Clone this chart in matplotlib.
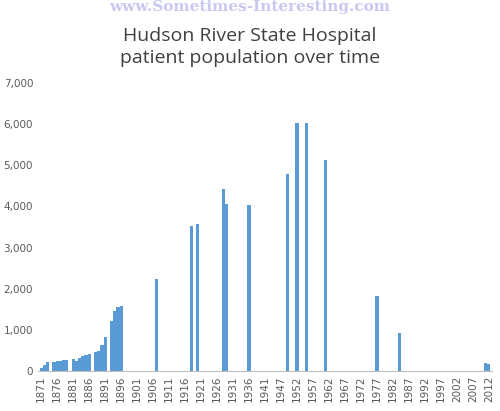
import matplotlib.pyplot as plt
import numpy as np

# categories: every year 1871-2012 except 1942 (as in the original sheet)
years = [y for y in range(1871, 2013) if y != 1942]

data_years = [1871, 1872, 1873, 1875, 1876, 1877, 1878, 1879, 1881, 1882, 1883, 1884,
              1885, 1886, 1888, 1889, 1890, 1891, 1893, 1894, 1895, 1896,
              1907, 1918, 1920, 1928, 1929, 1936, 1949, 1952, 1955, 1961,
              1977, 1984, 2011, 2012]
patients = [70, 150, 230, 230, 240, 250, 260, 260, 290, 250, 310, 360,
            380, 410, 470, 480, 630, 820, 1230, 1470, 1550, 1580,
            2230, 3530, 3570, 4420, 4050, 4040, 4800, 6030, 6030, 5130,
            1820, 930, 200, 170]

values = [0] * len(years)
for y, v in zip(data_years, patients):
    values[years.index(y)] = v

fig = plt.figure(figsize=(5, 4.11), dpi=100)
ax = fig.add_axes([0.076, 0.097, 0.908, 0.701])
x = np.arange(len(years))
ax.bar(x, values, width=1.0, color="#5b9bd5", linewidth=0)

ax.set_xlim(-1, len(years))
ax.set_ylim(0, 7000)
ax.set_yticks(range(0, 7001, 1000))
ax.set_yticklabels([f"{v:,}" for v in range(0, 7001, 1000)])
ax.set_xticks(x[::5])
ax.set_xticklabels([str(years[i]) for i in x[::5]], rotation=90)
ax.tick_params(axis="both", labelsize=7.5, colors="#595959", length=0)
for s in ["top", "right", "left"]:
    ax.spines[s].set_visible(False)
ax.spines["bottom"].set_color("#bfbfbf")

fig.text(0.5, 0.982, "www.Sometimes-Interesting.com", ha="center", va="center",
         fontsize=11, fontweight="bold", family="DejaVu Serif", color="#c8c8f0")
fig.text(0.5, 0.885, "Hudson River State Hospital\npatient population over time",
         ha="center", va="center", fontsize=14, color="#404040",
         family="Open Sans", linespacing=1.3)

fig.savefig("out.png", dpi=100)
